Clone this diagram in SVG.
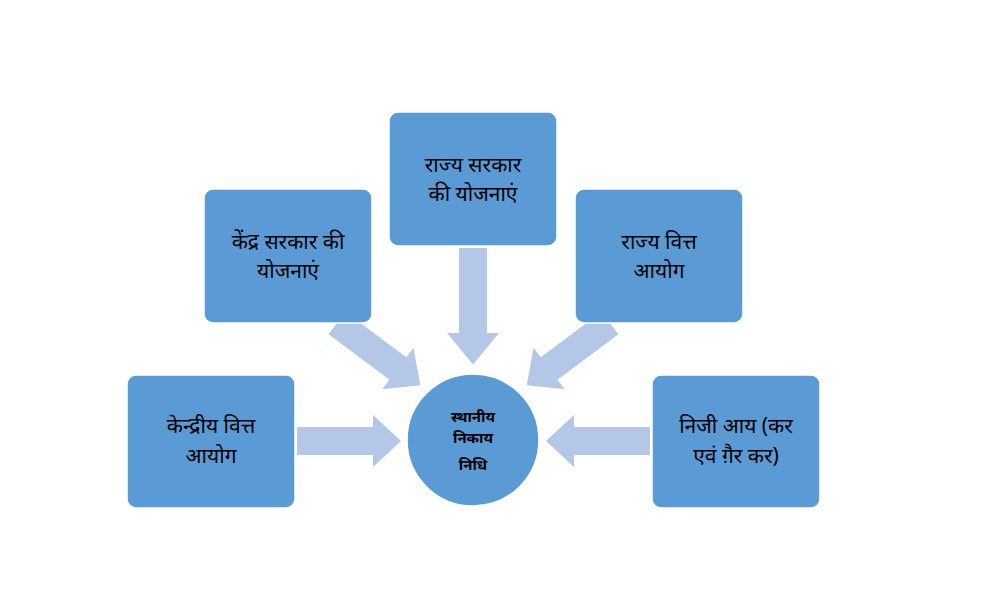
<svg xmlns="http://www.w3.org/2000/svg" width="991" height="616" viewBox="0 0 991 616">
<style>
.box{fill:#5b9bd5;stroke:#fff;stroke-width:1.5}
.ar{fill:#b4c7e7}
.t{font-family:"Noto Sans","Noto Sans Devanagari",sans-serif;font-size:21px;fill:#000;text-anchor:middle}
.c{font-family:"Noto Sans","Noto Sans Devanagari",sans-serif;font-size:15px;font-weight:bold;fill:#000;text-anchor:middle}
</style>
<defs><path id="arw" d="M0,-14 H76 V-26 L104,0 L76,26 V14 H0 Z"/></defs>
<rect width="991" height="616" fill="#fff"/>
<g id="connectors">
<use href="#arw" class="ar" transform="translate(297,441)"/>
<use href="#arw" class="ar" transform="translate(650,441) rotate(180)"/>
<use href="#arw" class="ar" transform="translate(473,248) rotate(90) scale(1.12,1)"/>
<use href="#arw" class="ar" transform="translate(337,323) rotate(36.8)"/>
<use href="#arw" class="ar" transform="translate(610,323) rotate(143.2)"/>
</g>
<g id="n1"><rect class="box" x="127" y="375" width="168" height="133" rx="9"/><text class="t" x="211" y="433">केन्द्रीय वित्त</text><text class="t" x="211" y="463">आयोग</text></g>
<g id="n2"><rect class="box" x="204" y="189" width="168" height="134" rx="9"/><text class="t" x="288" y="249">केंद्र सरकार की</text><text class="t" x="288" y="278">योजनाएं</text></g>
<g id="n3"><rect class="box" x="389" y="112" width="168" height="134" rx="9"/><text class="t" x="473" y="172">राज्य सरकार</text><text class="t" x="473" y="201">की योजनाएं</text></g>
<g id="n4"><rect class="box" x="575" y="189" width="168" height="134" rx="9"/><text class="t" x="659" y="249">राज्य वित्त</text><text class="t" x="659" y="278">आयोग</text></g>
<g id="n5"><rect class="box" x="652" y="375" width="168" height="133" rx="9"/><text class="t" x="736" y="433">निजी आय (कर</text><text class="t" x="736" y="463">एवं ग़ैर कर)</text></g>
<g id="center"><circle cx="473" cy="440" r="66" class="box"/><text class="c" x="473" y="422">स्थानीय</text><text class="c" x="473" y="443">निकाय</text><text class="c" x="473" y="470">निधि</text></g>
</svg>
